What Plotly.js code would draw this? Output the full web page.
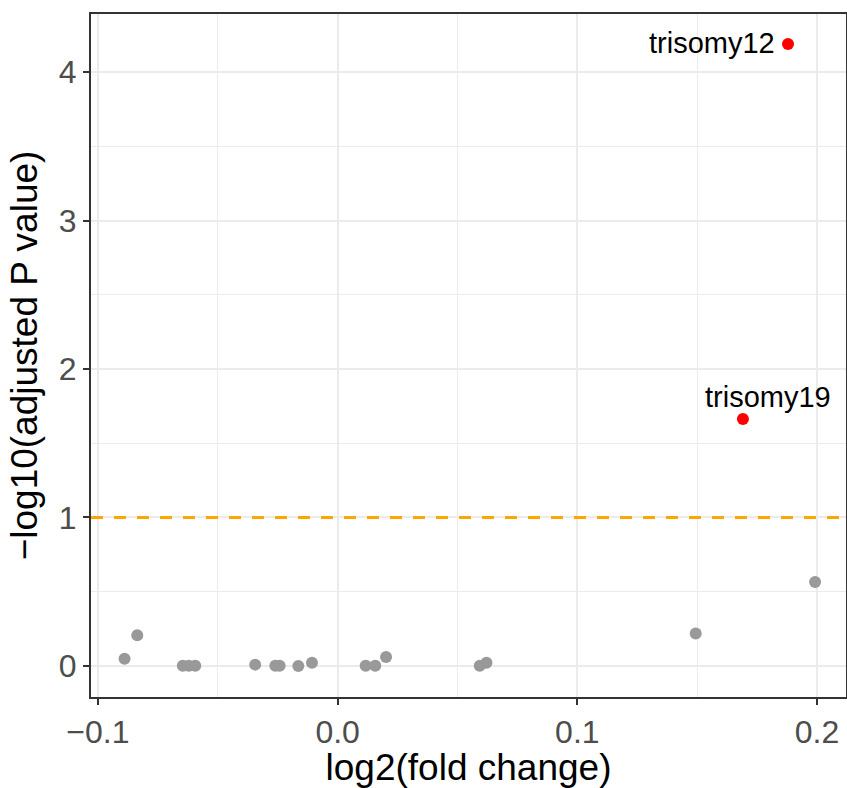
<!DOCTYPE html>
<html>
<head>
<meta charset="utf-8">
<script src="https://cdn.plot.ly/plotly-3.0.1.min.js"></script>
<style>html,body{margin:0;padding:0;background:#fff;}#chart{width:847px;height:788px;}</style>
</head>
<body>
<div id="chart"></div>
<script>
// Non-significant features (grey)
const nsX = [-0.0889, -0.0836, -0.0646, -0.0621, -0.0594, -0.0344, -0.0260, -0.0242, -0.0164, -0.0107, 0.0117, 0.0157, 0.0202, 0.0593, 0.0621, 0.1494, 0.1992];
const nsY = [0.049, 0.207, 0.002, 0.002, 0.002, 0.009, 0.002, 0.002, 0.000, 0.022, 0.002, 0.002, 0.061, 0.002, 0.022, 0.218, 0.566];
// Significant features (red, labelled)
const sigLabels = ["trisomy12", "trisomy19"];
const sigX = [0.1879, 0.1691];
const sigY = [4.189, 1.663];
// Threshold
const threshold = 1;
// Axis ticks
const xTickVals = [-0.1, 0.0, 0.1, 0.2];
const xTickText = ["\u22120.1", "0.0", "0.1", "0.2"];
const xMinorVals = [-0.05, 0.05, 0.15];
const yTickVals = [0, 1, 2, 3, 4];
const yTickText = ["0", "1", "2", "3", "4"];
const yMinorVals = [0.5, 1.5, 2.5, 3.5];

const FONT = "Liberation Sans, Arial, Helvetica, sans-serif";
const xRange = [-0.1029, 0.2121];
const yRange = [-0.209, 4.391];

const traces = [
  {x: xRange, y: [threshold, threshold], type: "scatter", mode: "lines", line: {color: "#FFA500", width: 3, dash: "12px,11px"}, hoverinfo: "skip"},
  {x: nsX, y: nsY, type: "scatter", mode: "markers", marker: {color: "#999999", size: 12}, hoverinfo: "skip"},
  {x: sigX, y: sigY, type: "scatter", mode: "markers", marker: {color: "#ff0000", size: 12}, hoverinfo: "skip"}
];

const annShifts = [
  {xanchor: "right", yanchor: "middle", xshift: -11, yshift: 1},
  {xanchor: "center", yanchor: "middle", xshift: 25, yshift: 22}
];
const annotations = sigLabels.map((t, i) => Object.assign({
  x: sigX[i], y: sigY[i], xref: "x", yref: "y", text: t, showarrow: false,
  font: {family: FONT, size: 29, color: "#000000"}
}, annShifts[i]));

const layout = {
  width: 847, height: 788,
  margin: {l: 91, r: 1, t: 14, b: 91},
  paper_bgcolor: "#ffffff", plot_bgcolor: "#ffffff",
  showlegend: false,
  font: {family: FONT},
  xaxis: {
    range: xRange, tickvals: xTickVals, ticktext: xTickText,
    showgrid: true, gridcolor: "#ebebeb", gridwidth: 2, zeroline: false,
    minor: {tickvals: xMinorVals, showgrid: true, gridcolor: "#ebebeb", gridwidth: 1, ticks: ""},
    showline: true, mirror: true, linecolor: "#333333", linewidth: 2,
    ticks: "outside", ticklen: 6, tickwidth: 2, tickcolor: "#333333",
    tickfont: {family: FONT, size: 32, color: "#4d4d4d"},
    title: {text: "log2(fold change)", font: {family: FONT, size: 37, color: "#000000"}, standoff: 8}
  },
  yaxis: {
    range: yRange, tickvals: yTickVals, ticktext: yTickText,
    showgrid: true, gridcolor: "#ebebeb", gridwidth: 2, zeroline: false,
    minor: {tickvals: yMinorVals, showgrid: true, gridcolor: "#ebebeb", gridwidth: 1, ticks: ""},
    showline: true, mirror: true, linecolor: "#333333", linewidth: 2,
    ticks: "outside", ticklen: 6, tickwidth: 2, tickcolor: "#333333",
    tickfont: {family: FONT, size: 32, color: "#4d4d4d"},
    title: {text: "\u2212log10(adjusted P value)", font: {family: FONT, size: 37, color: "#000000"}, standoff: 10}
  },
  annotations: annotations
};

Plotly.newPlot("chart", traces, layout, {staticPlot: true, displayModeBar: false});
</script>
</body>
</html>
